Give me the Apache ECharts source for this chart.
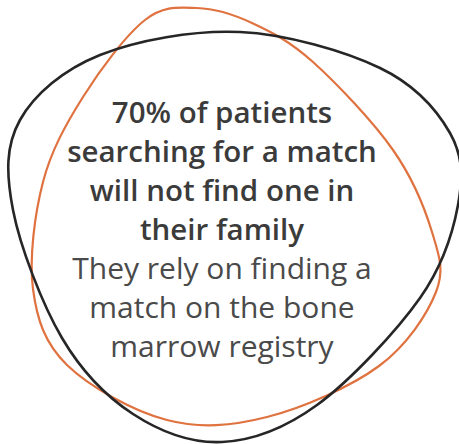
<!DOCTYPE html>
<html>
<head>
<meta charset="utf-8">
<script src="https://cdn.jsdelivr.net/npm/echarts@6/dist/echarts.min.js"></script>
<style>html,body{margin:0;padding:0;background:#fff}#c{width:459px;height:444px}</style>
</head>
<body>
<div id="c"></div>
<script>
// Outline of the black rounded shape (x, y in picture units, y downward)
const blackShape = [
  [240,32],[380,68],[450,133],[458,205],[420,298],[317,405],[222,442],[133,414],
  [62,338],[13,210],[20,120],[100,55]
];
// Outline of the orange rounded shape
const orangeShape = [
  [197,8],[252,23],[313,62],[393,150],[432,232],[436,292],[379,366],[267,417],[167,420],
  [67,365],[33,289],[43,182],[83,97],[145,20]
];
const boldLines = ['70% of patients','searching for a match','will not find one in','their family'];
const regularLines = ['They rely on finding a','match on the bone','marrow registry'];

const chart = echarts.init(document.getElementById('c'), null, {renderer:'svg'});
// closed Catmull-Rom curve through the mapped outline points
function smoothPath(p){
  const n = p.length; let d = 'M' + p[0][0] + ' ' + p[0][1];
  for (let i = 0; i < n; i++){
    const p0 = p[(i-1+n)%n], p1 = p[i], p2 = p[(i+1)%n], p3 = p[(i+2)%n];
    const c1 = [p1[0] + (p2[0]-p0[0])/6, p1[1] + (p2[1]-p0[1])/6];
    const c2 = [p2[0] - (p3[0]-p1[0])/6, p2[1] - (p3[1]-p1[1])/6];
    d += ' C' + c1.join(' ') + ' ' + c2.join(' ') + ' ' + p2.join(' ');
  }
  return d + ' Z';
}
function outline(pts, color, width){
  return {
    type:'custom', data:[0], silent:true,
    renderItem:function(params, api){
      return {type:'path', shape:{pathData: smoothPath(pts.map(p=>api.coord(p)))},
        style:{fill:'none', stroke:color, lineWidth:width}};
    }
  };
}
const textEls = [];
boldLines.forEach((t,i)=>textEls.push({type:'text', x:222, y:111+i*39.3,
  style:{text:t, fill:'#3b3b3b', font:'600 29.5px "Open Sans"', textAlign:'center', textVerticalAlign:'middle'}}));
regularLines.forEach((t,i)=>textEls.push({type:'text', x:222, y:267+i*39,
  style:{text:t, fill:'#4a4a4a', font:'30px "Open Sans"', textAlign:'center', textVerticalAlign:'middle'}}));
chart.setOption({
  animation:false,
  grid:{left:0,right:0,top:0,bottom:0},
  xAxis:{type:'value', min:0, max:459, show:false},
  yAxis:{type:'value', min:0, max:444, inverse:true, show:false},
  series:[outline(orangeShape,'#e07240',2.2), outline(blackShape,'#262626',2.6)],
  graphic:textEls
});
</script>
</body>
</html>
